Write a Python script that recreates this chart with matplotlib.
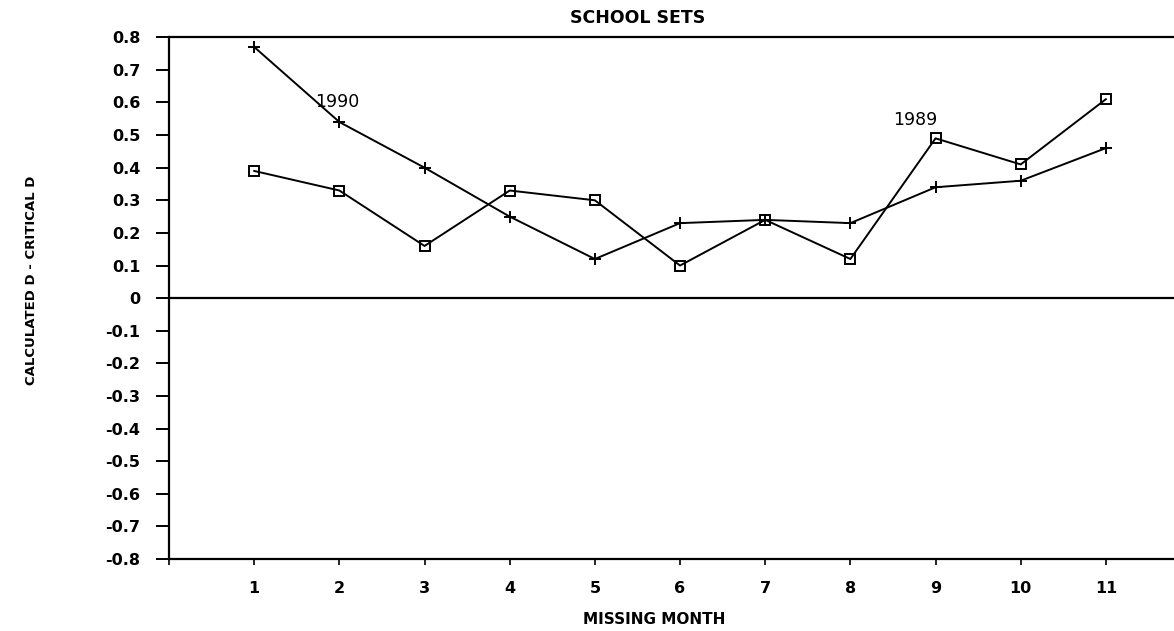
import matplotlib.pyplot as plt
import numpy as np

months = [1, 2, 3, 4, 5, 6, 7, 8, 9, 10, 11]
d1990 = [0.77, 0.54, 0.40, 0.25, 0.12, 0.23, 0.24, 0.23, 0.34, 0.36, 0.46]
d1989 = [0.39, 0.33, 0.16, 0.33, 0.30, 0.10, 0.24, 0.12, 0.49, 0.41, 0.61]
yticks = np.round(np.arange(-0.8, 0.81, 0.1), 1)

plt.rcParams['font.family'] = ['DejaVu Sans']

fig = plt.figure(figsize=(11.74, 6.31), dpi=100)
ax = fig.add_axes([0.144, 0.114, 0.856, 0.827])

ax.plot(months, d1990, color='black', lw=1.4, marker='+', ms=8, mew=1.4)
ax.plot(months, d1989, color='black', lw=1.4, marker='s', ms=7.5, mfc='none', mew=1.4)
ax.axhline(0, color='black', lw=1.6)

ax.text(1.98, 0.60, '1990', ha='center', va='center', fontsize=12.5)
ax.text(8.76, 0.545, '1989', ha='center', va='center', fontsize=12.5)

ax.set_xlim(0, 11.8)
ax.set_ylim(-0.8, 0.8)
ax.set_xticks(range(0, 12))
ax.set_xticklabels([''] + [str(m) for m in months], fontweight='bold', fontsize=11.5)
ax.set_yticks(yticks)
ax.set_yticklabels(['0' if v == 0 else f'{v:.1f}' for v in yticks], fontweight='bold', fontsize=11.5)
ax.tick_params(axis='y', direction='out', length=9.5, width=1.4, pad=11)
ax.tick_params(axis='x', direction='out', length=4, width=1.2, pad=12)

for s in ['left', 'bottom', 'top']:
    ax.spines[s].set_linewidth(1.6)
ax.spines['right'].set_visible(False)

fig.text(0.543, 0.971, 'SCHOOL SETS', ha='center', va='center', fontweight='bold', fontsize=12.5)
fig.text(0.557, 0.019, 'MISSING MONTH', ha='center', va='center', fontweight='bold', fontsize=11)
fig.text(0.027, 0.556, 'CALCULATED D - CRITICAL D', rotation=90, ha='center', va='center',
         fontweight='bold', fontsize=9.5)

fig.savefig('out.png', dpi=100)
